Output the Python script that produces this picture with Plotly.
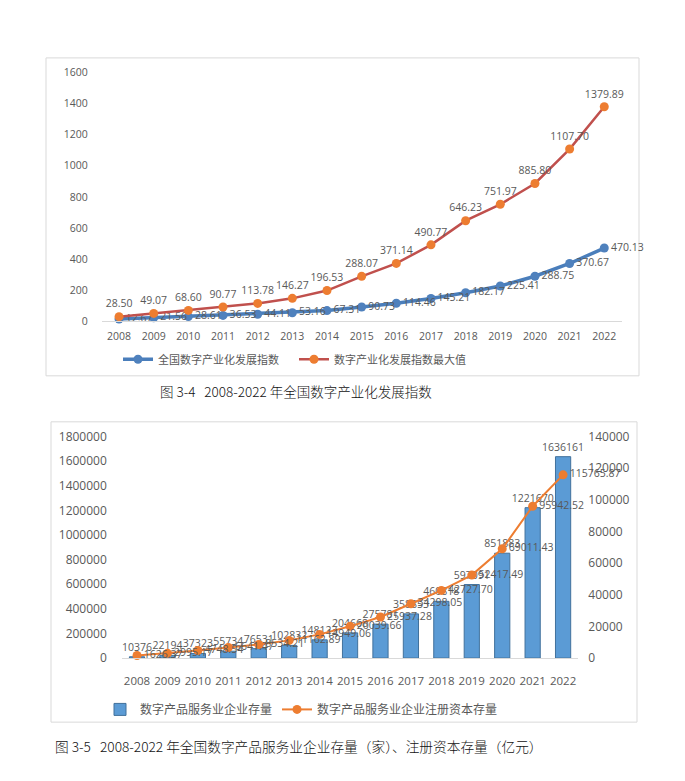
import plotly.graph_objects as go

W, H = 685, 781

years = [str(y) for y in range(2008, 2023)]

# Chart 1: 全国数字产业化发展指数
index_national = [12.67, 21.56, 28.61, 36.53, 44.11, 53.16, 67.31, 90.73, 114.46,
                  145.21, 182.17, 225.41, 288.75, 370.67, 470.13]
index_max = [28.50, 49.07, 68.60, 90.77, 113.78, 146.27, 196.53, 288.07, 371.14,
             490.77, 646.23, 751.97, 885.80, 1107.70, 1379.89]

# Chart 2: 数字产品服务业企业存量 / 注册资本存量
enterprise_count = [10376, 22194, 37323, 55734, 76531, 102832, 148123, 204668, 275781,
                    358853, 460818, 597091, 851883, 1221670, 1636161]
registered_capital = [1626.37, 2995.17, 4748.54, 6641.47, 8534.21, 11162.89, 14949.06,
                      20039.66, 25937.28, 34298.05, 42727.70, 52417.49, 69011.43,
                      95942.52, 115765.87]

FONT = "Open Sans, Noto Sans CJK SC, sans-serif"
CJK = "Noto Sans CJK SC, sans-serif"
GREY = "#595959"

def px_x(p):
    return p / W

def px_y(p):
    return 1 - p / H

def tf(size):
    return dict(size=size, family=FONT, color=GREY)

fig = go.Figure()

fig.add_trace(go.Scatter(
    x=years, y=index_national, name="全国数字产业化发展指数",
    mode="lines+markers+text", xaxis="x", yaxis="y", legend="legend",
    line=dict(color="#4A7EBB", width=3.5),
    marker=dict(color="#4F81BD", size=9),
    text=[f"{v:.2f}" for v in index_national], textposition="middle right",
    textfont=tf(10.5), cliponaxis=False,
))
fig.add_trace(go.Scatter(
    x=years, y=index_max, name="数字产业化发展指数最大值",
    mode="lines+markers+text", xaxis="x", yaxis="y", legend="legend",
    line=dict(color="#C0504D", width=2.5),
    marker=dict(color="#ED7D31", size=9),
    text=[f"{v:.2f}" for v in index_max], textposition="top center",
    textfont=tf(10.5), cliponaxis=False,
))

fig.add_trace(go.Bar(
    x=years, y=enterprise_count, name="数字产品服务业企业存量",
    xaxis="x2", yaxis="y2", legend="legend2",
    marker=dict(color="#5B9BD5", line=dict(color="#41719C", width=1)),
    width=0.5,
    text=[str(v) for v in enterprise_count], textposition="outside",
    constraintext="none",
    textfont=tf(10.5), cliponaxis=False,
))
fig.add_trace(go.Scatter(
    x=years, y=registered_capital, name="数字产品服务业企业注册资本存量",
    mode="lines+markers+text", xaxis="x2", yaxis="y3", legend="legend2",
    line=dict(color="#ED7D31", width=2),
    marker=dict(color="#ED7D31", size=9),
    text=[f"{v:.2f}" for v in registered_capital], textposition="middle right",
    textfont=tf(10.5), cliponaxis=False,
))

fig.update_layout(
    width=W, height=H,
    margin=dict(l=0, r=0, t=0, b=0),
    paper_bgcolor="white", plot_bgcolor="white",
    font=dict(family=FONT, color=GREY),
    xaxis=dict(showgrid=False, zeroline=False, type="category", range=[-0.5, 14.5],
               domain=[px_x(101.7), px_x(621.6)], anchor="y",
               showline=True, linecolor="#D9D9D9", linewidth=1,
               ticks="", ticklabelstandoff=5, tickfont=tf(10.5)),
    yaxis=dict(showgrid=False, zeroline=False,
               range=[0, 1600], dtick=200, tickformat="d",
               domain=[px_y(319), px_y(65)], anchor="x",
               ticklabelstandoff=13, tickfont=tf(10.5)),
    xaxis2=dict(showgrid=False, zeroline=False,
                type="category", range=[-0.5, 14.5],
                domain=[px_x(121.8), px_x(578.3)], anchor="y2",
                showline=True, linecolor="#D9D9D9", linewidth=1,
                ticks="", ticklabelstandoff=12, tickfont=tf(11.5)),
    yaxis2=dict(showgrid=False, zeroline=False,
                range=[0, 1800000], dtick=200000, tickformat="d",
                domain=[px_y(663.5), px_y(437)], anchor="x2",
                ticklabelstandoff=14, tickfont=tf(12)),
    yaxis3=dict(showgrid=False, zeroline=False,
                range=[0, 140000], dtick=20000, tickformat="d",
                overlaying="y2", side="right", anchor="x2",
                ticklabelstandoff=9, tickfont=tf(12)),
    legend=dict(orientation="h", x=px_x(118), y=px_y(358), xanchor="left", yanchor="middle",
                font=dict(size=11, family=CJK, color=GREY), bgcolor="rgba(0,0,0,0)",
                entrywidth=131, itemwidth=30),
    legend2=dict(orientation="h", x=px_x(100), y=px_y(716), xanchor="left", yanchor="middle",
                 font=dict(size=12, family=CJK, color=GREY), bgcolor="rgba(0,0,0,0)",
                 itemwidth=30),
    shapes=[
        dict(type="rect", xref="paper", yref="paper",
             x0=px_x(46), x1=px_x(639), y0=px_y(375), y1=px_y(50),
             line=dict(color="#D9D9D9", width=1), fillcolor="rgba(0,0,0,0)", layer="below"),
        dict(type="rect", xref="paper", yref="paper",
             x0=px_x(51), x1=px_x(637), y0=px_y(729), y1=px_y(422),
             line=dict(color="#D9D9D9", width=1), fillcolor="rgba(0,0,0,0)", layer="below"),
    ],
    annotations=[
        dict(text="图 3-4   2008-2022 年全国数字产业化发展指数", xref="paper", yref="paper",
             x=px_x(158), y=px_y(390), xanchor="left", yanchor="middle", showarrow=False,
             font=dict(size=13.5, family=CJK, color="#111111", weight=300)),
        dict(text="图 3-5   2008-2022 年全国数字产品服务业企业存量（家）、注册资本存量（亿元）",
             xref="paper", yref="paper",
             x=px_x(53), y=px_y(753), xanchor="left", yanchor="middle", showarrow=False,
             font=dict(size=13.7, family=CJK, color="#111111", weight=300)),
    ],
)

fig.write_html("out.html")
